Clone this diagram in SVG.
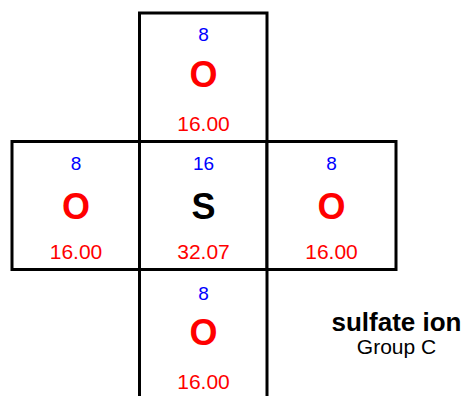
<svg xmlns="http://www.w3.org/2000/svg" width="466" height="396" viewBox="0 0 466 396">
<style>
.cell{fill:#fff;stroke:#000;stroke-width:3}
text{font-family:"Liberation Sans",Arial,sans-serif;text-anchor:middle}
.num{fill:#0000ff;font-size:19px}
.sym{fill:#ff0000;font-size:36px;font-weight:bold}
.symS{fill:#000;font-size:36px;font-weight:bold}
.mass{fill:#ff0000;font-size:21px}
.title{fill:#000;font-size:26px;font-weight:bold}
.sub{fill:#000;font-size:21px}
</style>
<rect width="466" height="396" fill="#fff"/>
<g id="o-top">
<rect class="cell" x="139.5" y="13" width="127.5" height="128.5"/>
<text class="num" x="203.5" y="41">8</text>
<text class="sym" x="203.5" y="87">O</text>
<text class="mass" x="203.5" y="130.5">16.00</text>
</g>
<g id="o-left">
<rect class="cell" x="12" y="141.5" width="127.5" height="128"/>
<text class="num" x="76" y="169.5">8</text>
<text class="sym" x="76" y="219">O</text>
<text class="mass" x="76" y="259">16.00</text>
</g>
<g id="s-center">
<rect class="cell" x="139.5" y="141.5" width="127.5" height="128"/>
<text class="num" x="203.5" y="170">16</text>
<text class="symS" x="203.5" y="218.5">S</text>
<text class="mass" x="203.5" y="259">32.07</text>
</g>
<g id="o-right">
<rect class="cell" x="267" y="141.5" width="129" height="128"/>
<text class="num" x="331.5" y="169.5">8</text>
<text class="sym" x="331.5" y="219">O</text>
<text class="mass" x="331.5" y="259">16.00</text>
</g>
<g id="o-bottom">
<rect class="cell" x="139.5" y="269.5" width="127.5" height="140"/>
<text class="num" x="203.5" y="299.5">8</text>
<text class="sym" x="203.5" y="345">O</text>
<text class="mass" x="203.5" y="389">16.00</text>
</g>
<g id="caption">
<text class="title" x="396.5" y="330.5">sulfate ion</text>
<text class="sub" x="396.5" y="354">Group C</text>
</g>
</svg>
